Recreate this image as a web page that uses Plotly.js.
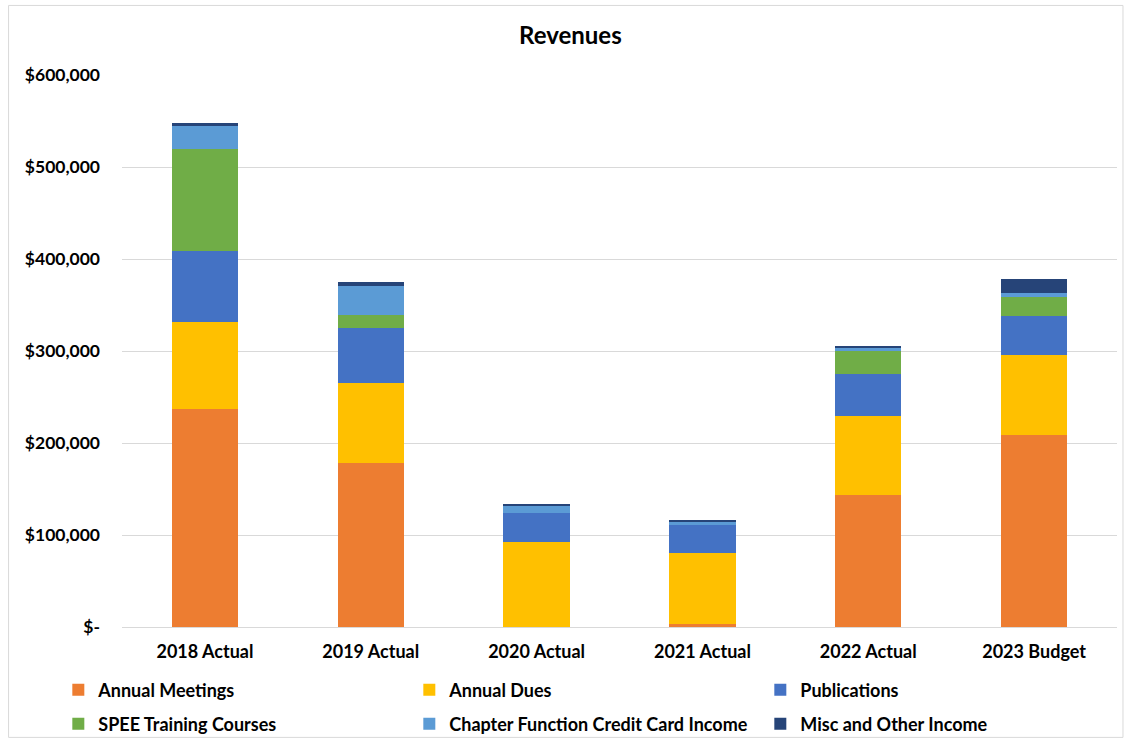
<!DOCTYPE html>
<html>
<head>
<meta charset="utf-8">
<script src="https://cdn.plot.ly/plotly-3.0.1.min.js"></script>
<style>html,body{margin:0;padding:0;background:#fff;}#chart{width:1125px;height:748px;}</style>
</head>
<body>
<div id="chart"></div>
<script>
const categories = ["2018 Actual", "2019 Actual", "2020 Actual", "2021 Actual", "2022 Actual", "2023 Budget"];
const annualMeetings = [237000, 178600, 0, 3600, 143200, 208700];
const annualDues = [94000, 86300, 92700, 77200, 86500, 87000];
const publications = [78000, 60400, 31500, 30100, 45000, 42700];
const speeTraining = [110500, 13800, 0, 0, 25300, 20000];
const chapterFunction = [24600, 31900, 7600, 3300, 4000, 4700];
const miscOther = [3700, 3700, 2200, 1400, 1700, 15600];
const seriesNames = ["Annual Meetings", "Annual Dues", "Publications", "SPEE Training Courses", "Chapter Function Credit Card Income", "Misc and Other Income"];
const seriesColors = ["#ED7D31", "#FFC000", "#4472C4", "#70AD47", "#5B9BD5", "#264478"];
const yTickVals = [0, 100000, 200000, 300000, 400000, 500000, 600000];
const yTickText = ["$-", "$100,000", "$200,000", "$300,000", "$400,000", "$500,000", "$600,000"];

const seriesValues = [annualMeetings, annualDues, publications, speeTraining, chapterFunction, miscOther];
const FONT = "Lato, 'Open Sans', sans-serif";

const traces = seriesValues.map((vals, i) => ({
  type: "bar",
  name: seriesNames[i],
  x: categories,
  y: vals,
  legend: i < 3 ? "legend" : "legend2",
  marker: {color: seriesColors[i], line: {width: 0}},
  hoverinfo: "x+y+name"
}));

const legendFont = {family: FONT, size: 18, color: "#000000", weight: "bold"};
const legendBase = {
  orientation: "h",
  x: -0.064, xanchor: "left",
  yanchor: "middle",
  traceorder: "normal",
  entrywidth: 306, entrywidthmode: "pixels",
  font: legendFont,
  itemwidth: 30,
  bgcolor: "rgba(0,0,0,0)"
};

const layout = {
  width: 1125,
  height: 748,
  barmode: "stack",
  bargap: 0.6,
  paper_bgcolor: "#ffffff",
  plot_bgcolor: "#ffffff",
  margin: {l: 122, r: 8, t: 75, b: 121, autoexpand: false},
  title: {text: "<b>Revenues</b>", x: 0.507, xanchor: "center", y: 0.952, yanchor: "middle",
          font: {family: FONT, size: 24, color: "#000000"}},
  font: {family: FONT, color: "#000000"},
  xaxis: {
    type: "category",
    tickfont: {family: FONT, size: 18, color: "#000000", weight: "bold"},
    showline: true, linecolor: "#d9d9d9", linewidth: 1,
    ticks: "", showgrid: false, zeroline: false,
    ticklabelstandoff: 8
  },
  yaxis: {
    range: [0, 600000],
    tickvals: yTickVals,
    ticktext: yTickText,
    tickfont: {family: FONT, size: 17.5, color: "#000000", weight: "bold"},
    showgrid: true, gridcolor: "#d9d9d9", gridwidth: 1,
    zeroline: false, showline: false, ticks: "",
    ticklabelstandoff: 21
  },
  showlegend: true,
  legend: Object.assign({}, legendBase, {y: -0.114}),
  legend2: Object.assign({}, legendBase, {y: -0.176}),
  shapes: [{
    type: "rect", xref: "paper", yref: "paper",
    x0: -0.114, x1: 1.006, y0: -0.2, y1: 1.126,
    line: {color: "#d9d9d9", width: 1}, fillcolor: "rgba(0,0,0,0)", layer: "below"
  }]
};

Plotly.newPlot("chart", traces, layout, {displayModeBar: false, responsive: false});
</script>
</body>
</html>
